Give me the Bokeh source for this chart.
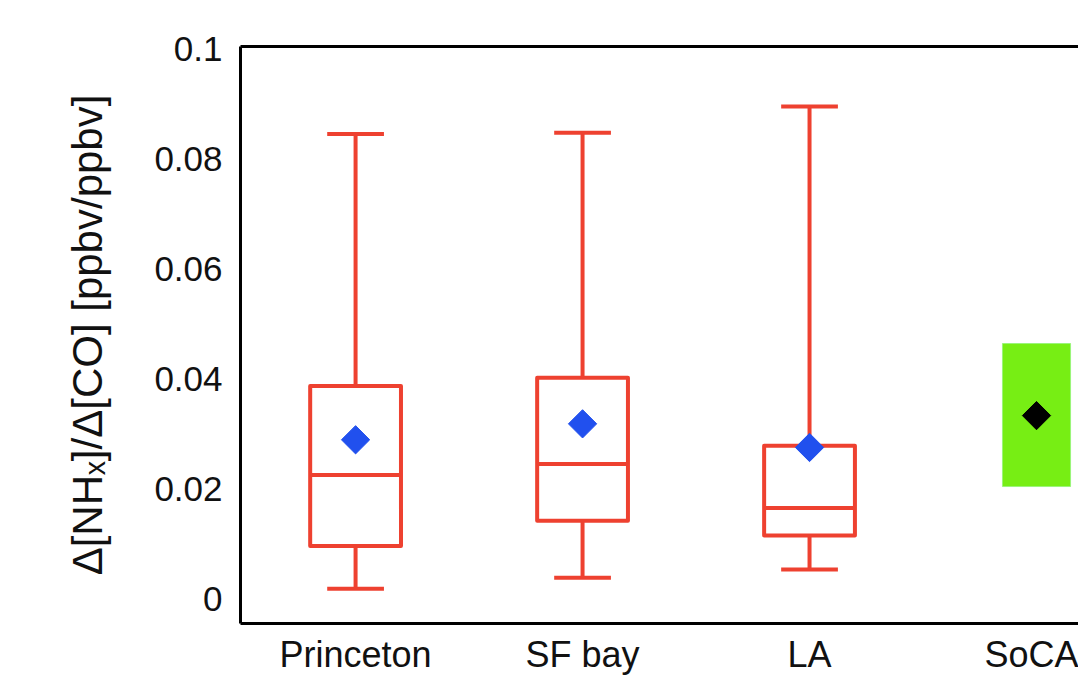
import numpy as np
from bokeh.plotting import figure
from bokeh.models import LinearAxis, FixedTicker, Range1d, ColumnDataSource
from bokeh.embed import file_html
from bokeh.resources import INLINE

# ---- data ----
categories = ["Princeton", "SF bay", "LA"]
whisker_hi = [0.0845, 0.0847, 0.0895]
q3 = [0.0387, 0.0402, 0.0278]
median = [0.0225, 0.0245, 0.0165]
q1 = [0.0096, 0.0142, 0.0115]
whisker_lo = [0.0018, 0.0038, 0.0053]
mean = [0.0289, 0.0318, 0.0275]

soca_label = "SoCA"
soca_lo = [0.0204]
soca_hi = [0.0464]
soca_mean = [0.0333]

all_labels = categories + [soca_label]
xpos = [1, 2, 3]
xs = [4]

RED = "#EE4130"
BLUE = "#2150EE"
GREEN = "#77EE14"
FONT = "Liberation Sans"

p = figure(width=1078, height=678, output_backend="svg", toolbar_location=None,
           x_range=Range1d(0.493, 4.185), y_range=Range1d(-0.0045, 0.1004),
           min_border_left=240, min_border_right=0, min_border_top=46, min_border_bottom=55)
p.outline_line_color = None
p.grid.visible = False
p.background_fill_color = "white"

bw = 0.4
cw = 0.25
src = ColumnDataSource(dict(x=xpos, hi=whisker_hi, q3=q3, med=median, q1=q1, lo=whisker_lo, mean=mean,
                            left=[v - bw / 2 for v in xpos], right=[v + bw / 2 for v in xpos],
                            cl=[v - cw / 2 for v in xpos], cr=[v + cw / 2 for v in xpos]))

lw = 4
p.segment(x0="x", y0="q3", x1="x", y1="hi", source=src, line_color=RED, line_width=lw)
p.segment(x0="x", y0="lo", x1="x", y1="q1", source=src, line_color=RED, line_width=lw)
p.segment(x0="cl", y0="hi", x1="cr", y1="hi", source=src, line_color=RED, line_width=lw)
p.segment(x0="cl", y0="lo", x1="cr", y1="lo", source=src, line_color=RED, line_width=lw)
p.quad(left="left", right="right", bottom="q1", top="q3", source=src,
       fill_color=None, line_color=RED, line_width=lw, line_join="round")
p.segment(x0="left", y0="med", x1="right", y1="med", source=src, line_color=RED, line_width=lw)
p.scatter(x="x", y="mean", source=src, marker="square", angle=np.pi / 4, size=20,
          fill_color=BLUE, line_color=BLUE)

sw = 0.30
p.quad(left=[v - sw / 2 for v in xs], right=[v + sw / 2 for v in xs], bottom=soca_lo, top=soca_hi,
       fill_color=GREEN, line_color="#9AF57A", line_width=1)
p.scatter(x=xs, y=soca_mean, marker="square", angle=np.pi / 4, size=20,
          fill_color="black", line_color="black")

# axes
p.xaxis.ticker = FixedTicker(ticks=xpos + xs)
p.xaxis.major_label_overrides = {i + 1: lab for i, lab in enumerate(all_labels)}
p.yaxis.ticker = FixedTicker(ticks=[0, 0.02, 0.04, 0.06, 0.08, 0.1])
p.yaxis.major_label_overrides = {0: "0", 0.02: "0.02", 0.04: "0.04", 0.06: "0.06", 0.08: "0.08", 0.1: "0.1"}
for ax in (p.xaxis[0], p.yaxis[0]):
    ax.axis_line_width = 3
    ax.axis_line_color = "black"
    ax.major_tick_line_color = None
    ax.minor_tick_line_color = None
    ax.major_label_text_font = FONT
    ax.major_label_text_color = "#111111"
p.xaxis.major_label_text_font_size = "36px"
p.xaxis.major_label_standoff = 4
p.yaxis.major_label_text_font_size = "35px"
p.yaxis.major_label_standoff = 12
p.yaxis.axis_label = "Δ[NHₓ]/Δ[CO] [ppbv/ppbv]"
p.yaxis.axis_label_text_font = FONT
p.yaxis.axis_label_text_font_style = "normal"
p.yaxis.axis_label_text_font_size = "42px"
p.yaxis.axis_label_text_color = "#111111"
p.yaxis.axis_label_standoff = 40

top = LinearAxis(ticker=FixedTicker(ticks=[]), axis_line_width=3, axis_line_color="black",
                 major_tick_line_color=None, minor_tick_line_color=None,
                 major_label_text_font_size="0px")
p.add_layout(top, "above")

open("out.html", "w").write(file_html(p, INLINE))
